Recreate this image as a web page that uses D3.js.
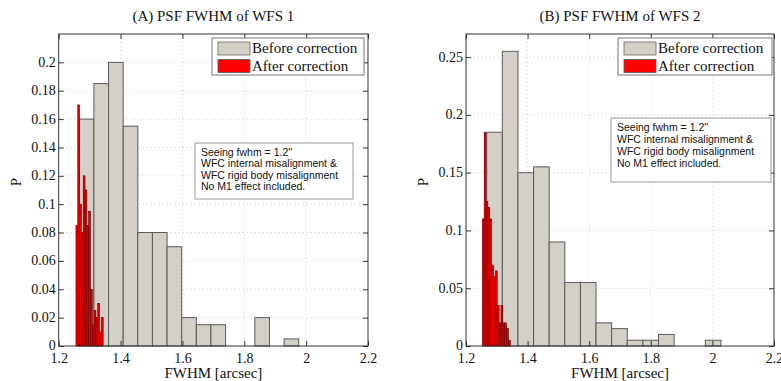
<!DOCTYPE html>
<html><head><meta charset="utf-8">
<script src="https://cdn.jsdelivr.net/npm/d3@7/dist/d3.min.js"></script>
<style>body{margin:0;background:#fff}svg{display:block}</style>
</head><body>
<svg id="c" width="781" height="381"></svg>
<script>
// ---- data ----
const xTicks = [1.2, 1.4, 1.6, 1.8, 2.0, 2.2];
const yTicksA = [0, 0.02, 0.04, 0.06, 0.08, 0.1, 0.12, 0.14, 0.16, 0.18, 0.2];
const yTicksB = [0, 0.05, 0.1, 0.15, 0.2, 0.25];
const titles = ["(A) PSF FWHM of WFS 1", "(B) PSF FWHM of WFS 2"];
const legendLabels = ["Before correction", "After correction"];
const noteLines = ["Seeing fwhm = 1.2''", "WFC internal misalignment &", "WFC rigid body misalignment", "No M1 effect included."];

const beforeA_x = [1.2902, 1.3375, 1.3848, 1.4321, 1.4794, 1.5267, 1.5740, 1.6213, 1.6686, 1.7159, 1.7632, 1.8105, 1.8578, 1.9051, 1.9524];
const beforeA_p = [0.16, 0.185, 0.2, 0.155, 0.08, 0.08, 0.07, 0.02, 0.015, 0.015, 0, 0, 0.02, 0, 0.005];
const afterA_x = [1.2587, 1.2646, 1.2705, 1.2763, 1.2822, 1.2881, 1.2940, 1.2998, 1.3057, 1.3116, 1.3174, 1.3233, 1.3292, 1.3351, 1.3409];
const afterA_p = [0.085, 0.17, 0.1, 0.08, 0.12, 0.11, 0.085, 0.095, 0.04, 0.015, 0.025, 0.02, 0.03, 0.01, 0.02];

const beforeB_x = [1.2926, 1.3433, 1.3940, 1.4447, 1.4954, 1.5461, 1.5968, 1.6475, 1.6982, 1.7489, 1.7996, 1.8503, 1.9010, 1.9517, 2.0024];
const beforeB_p = [0.185, 0.255, 0.15, 0.155, 0.09, 0.055, 0.055, 0.02, 0.015, 0.005, 0.005, 0.01, 0, 0, 0.005];
const afterB_x = [1.2559, 1.2620, 1.2680, 1.2741, 1.2802, 1.2862, 1.2923, 1.2983, 1.3044, 1.3105, 1.3165, 1.3226, 1.3286, 1.3347, 1.3408];
const afterB_p = [0.11, 0.185, 0.125, 0.12, 0.11, 0.07, 0.06, 0.065, 0.035, 0.02, 0.035, 0.02, 0.02, 0.015, 0.005];

// ---- drawing ----
const svg = d3.select("#c");
const SERIF = "'Liberation Serif','Times New Roman',serif";
const SANS = "'Liberation Sans',Arial,sans-serif";
const GRAY = "#d4d0c8", RED = "#ff0000";

function panel(o) {
  const x = d3.scaleLinear().domain([1.2, 2.2]).range([o.left, o.right]);
  const y = d3.scaleLinear().domain([0, o.ymax]).range([o.bottom, o.top]);
  const g = svg.append("g");

  // grid
  const grid = g.append("g").attr("stroke", "#bdbdbd").attr("stroke-width", 0.8).attr("stroke-dasharray", "1,3");
  grid.selectAll("line.gx").data(xTicks.slice(1, -1)).join("line")
    .attr("x1", d => x(d)).attr("x2", d => x(d)).attr("y1", o.top).attr("y2", o.bottom);
  grid.selectAll("line.gy").data(o.yTicks.slice(1)).join("line")
    .attr("x1", o.left).attr("x2", o.right).attr("y1", d => y(d)).attr("y2", d => y(d));

  function bars(cx, vals, fill, stroke, sw) {
    const w = x(cx[1]) - x(cx[0]);
    g.append("g").selectAll("rect").data(cx.map((c, i) => [c, vals[i]])).join("rect")
      .attr("x", d => x(d[0]) - w / 2).attr("width", w)
      .attr("y", d => y(d[1])).attr("height", d => y(0) - y(d[1]))
      .attr("fill", fill).attr("stroke", stroke).attr("stroke-width", sw);
  }
  bars(o.bx, o.bp, GRAY, "#5a5a5a", 1);
  bars(o.ax, o.ap, "#e00000", "#6e0000", 0.6);

  // axes (MATLAB style: ticks inside, box)
  const axB = d3.axisBottom(x).tickValues(xTicks).tickSize(-5).tickFormat(d => String(+d.toFixed(1)));
  const axT = d3.axisTop(x).tickValues(xTicks).tickSize(-5).tickFormat("");
  const axL = d3.axisLeft(y).tickValues(o.yTicks).tickSize(-5).tickFormat(d => String(+d.toFixed(2)));
  const axR = d3.axisRight(y).tickValues(o.yTicks).tickSize(-5).tickFormat("");
  function style(sel) {
    sel.select(".domain").remove();
    sel.selectAll("line").attr("stroke", "#333");
    sel.selectAll("text").attr("font-family", SERIF).attr("font-size", 14).attr("fill", "#111");
  }
  g.append("g").attr("transform", `translate(0,${o.bottom})`).call(axB).call(style)
    .selectAll("text").attr("dy", "0.71em").attr("y", 7);
  g.append("g").attr("transform", `translate(0,${o.top})`).call(axT).call(style);
  g.append("g").attr("transform", `translate(${o.left},0)`).call(axL).call(style)
    .selectAll("text").attr("x", -3).attr("dy", "0.28em");
  g.append("g").attr("transform", `translate(${o.right},0)`).call(axR).call(style);
  g.append("rect").attr("x", o.left).attr("y", o.top).attr("width", o.right - o.left).attr("height", o.bottom - o.top)
    .attr("fill", "none").attr("stroke", "#333").attr("stroke-width", 1);

  // title and labels
  const cx = (o.left + o.right) / 2;
  g.append("text").attr("x", cx).attr("y", 21).attr("text-anchor", "middle")
    .attr("font-family", SERIF).attr("font-size", 15).attr("fill", "#111").text(o.title);
  g.append("text").attr("x", cx).attr("y", 378).attr("text-anchor", "middle")
    .attr("font-family", SERIF).attr("font-size", 15).attr("fill", "#111").text("FWHM [arcsec]");
  g.append("text").attr("transform", `translate(${o.left - 38},${(o.top + o.bottom) / 2 - 8}) rotate(-90)`)
    .attr("text-anchor", "middle").attr("font-family", SERIF).attr("font-size", 15).attr("fill", "#111").text("P");

  // legend
  const L = o.legend;
  g.append("rect").attr("x", L.x).attr("y", L.y).attr("width", L.w).attr("height", 37)
    .attr("fill", "#fff").attr("stroke", "#777").attr("stroke-width", 1);
  [[GRAY, "#666"], [RED, "#555"]].forEach((c, i) => {
    g.append("rect").attr("x", L.x + 6).attr("y", L.y + 4 + i * 17.5).attr("width", 32).attr("height", 13)
      .attr("fill", c[0]).attr("stroke", c[1]).attr("stroke-width", 0.8);
    g.append("text").attr("x", L.x + 40).attr("y", L.y + 15 + i * 17.5)
      .attr("font-family", SERIF).attr("font-size", 15).attr("fill", "#111").text(legendLabels[i]);
  });

  // annotation
  const N = o.note;
  g.append("rect").attr("x", N.x).attr("y", N.y).attr("width", N.w).attr("height", N.h)
    .attr("fill", "#fff").attr("stroke", "#999").attr("stroke-width", 1);
  noteLines.forEach((t, i) => {
    g.append("text").attr("x", N.x + 6).attr("y", N.y + N.t + i * N.s)
      .attr("font-family", SANS).attr("font-size", 10.5).attr("fill", "#111").text(t);
  });
}

panel({left: 58.7, right: 368, top: 34, bottom: 346, ymax: 0.22, yTicks: yTicksA,
  bx: beforeA_x, bp: beforeA_p, ax: afterA_x, ap: afterA_p, title: titles[0],
  legend: {x: 212, y: 38, w: 152}, note: {x: 195, y: 143, w: 158, h: 56, t: 12.5, s: 11.6}});
panel({left: 466, right: 774, top: 34, bottom: 346, ymax: 0.27, yTicks: yTicksB,
  bx: beforeB_x, bp: beforeB_p, ax: afterB_x, ap: afterB_p, title: titles[1],
  legend: {x: 618, y: 38, w: 154}, note: {x: 611, y: 118, w: 160, h: 64, t: 13, s: 12}});
</script>
</body></html>
